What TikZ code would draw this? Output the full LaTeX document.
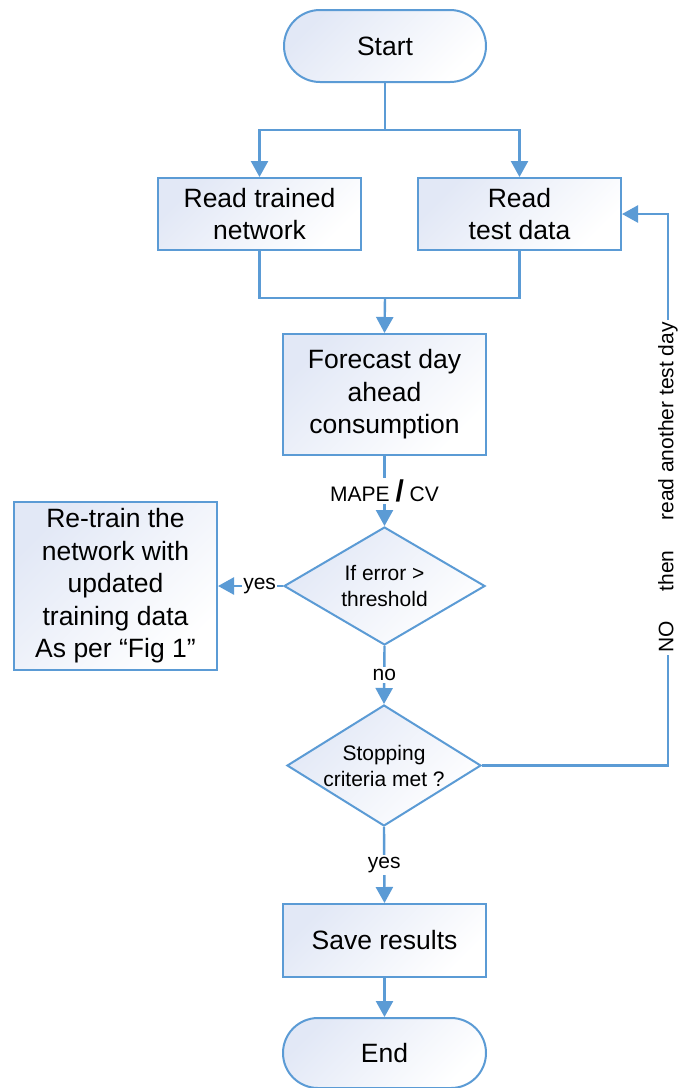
\documentclass[tikz,border=0pt]{standalone}
\usepackage{fontspec}
\setmainfont{Liberation Sans}
\usetikzlibrary{shapes.geometric,arrows.meta}
\definecolor{flowblue}{RGB}{91,155,213}
\definecolor{flowfill}{RGB}{226,232,246}
\tikzset{
  base/.style={draw=flowblue, line width=2pt, shading=axis, top color=flowfill,
    bottom color=white, shading angle=45, inner sep=0pt, align=center,
    font=\fontsize{26.5}{32.5}\selectfont},
  procbox/.style={base, rectangle},
  termbox/.style={base, rectangle, rounded corners=36pt},
  decision/.style={base, diamond, font=\fontsize{21}{26}\selectfont},
  flow/.style={draw=flowblue, line width=2.4pt},
  flowarrow/.style={flow, -{Triangle[width=17pt,length=16pt]}},
  lbl/.style={fill=white, inner sep=2pt, font=\fontsize{21}{24}\selectfont},
}
\begin{document}
\begin{tikzpicture}[x=1pt,y=-1pt]
\useasboundingbox[fill=white] (0,0) rectangle (680,1088);

% boxes
\node[termbox, minimum width=202pt, minimum height=72pt] (start) at (385,46) {Start};
\node[procbox, minimum width=203pt, minimum height=72pt] (rtn) at (259.5,214) {Read trained\\network};
\node[procbox, minimum width=203pt, minimum height=72pt] (rtd) at (519.5,214) {Read\\test data};
\node[procbox, minimum width=203pt, minimum height=121pt] (fc) at (384.5,394.5) {Forecast day\\ahead\\consumption};
\node[decision, minimum width=201pt, minimum height=118pt, aspect=1.7] (err) at (384.5,586) {If error >\\threshold};
\node[procbox, minimum width=203pt, minimum height=168pt] (rt) at (115.5,586)
  {Re-train the\\network with\\updated\\training data\\As per “Fig 1”};
\node[decision, minimum width=194pt, minimum height=121pt, aspect=1.6] (stop) at (384,765.5) {Stopping\\criteria met ?};
\node[procbox, minimum width=203pt, minimum height=73pt] (save) at (384.5,940.5) {Save results};
\node[termbox, minimum width=203pt, minimum height=70pt, rounded corners=35pt] (end) at (384.5,1053) {End};

% connectors
\coordinate (split) at (385,130);
\coordinate (join) at (385,298);
\coordinate (looptop) at (668,214);
\draw[flow] (start.south) -- (split);
\draw[flowarrow] (split) -| (rtn.north);
\draw[flowarrow] (split) -| (rtd.north);
\draw[flow] (rtn.south) |- (join);
\draw[flow] (rtd.south) |- (join);
\draw[flowarrow] (join) -- (fc.north);
\draw[flowarrow] (fc.south) -- node[lbl]{MAPE {\fontsize{30}{30}\selectfont\bfseries /} CV} (err.north);
\draw[flowarrow] (err.west) -- node[lbl, inner sep=1pt, pos=0.36]{yes} (rt.east);
\draw[flowarrow] (err.south) -- node[lbl]{no} (stop.north);
\draw[flowarrow] (stop.south) -- node[lbl]{yes} (save.north);
\draw[flowarrow] (save.south) -- (end.north);
\draw[flowarrow] (stop.east) -| node[lbl, pos=0.752, rotate=90, font=\fontsize{21}{24}\selectfont]
  {NO\hspace{30pt}then\hspace{30pt}read another test day} (looptop) -- (rtd.east);
\end{tikzpicture}
\end{document}
